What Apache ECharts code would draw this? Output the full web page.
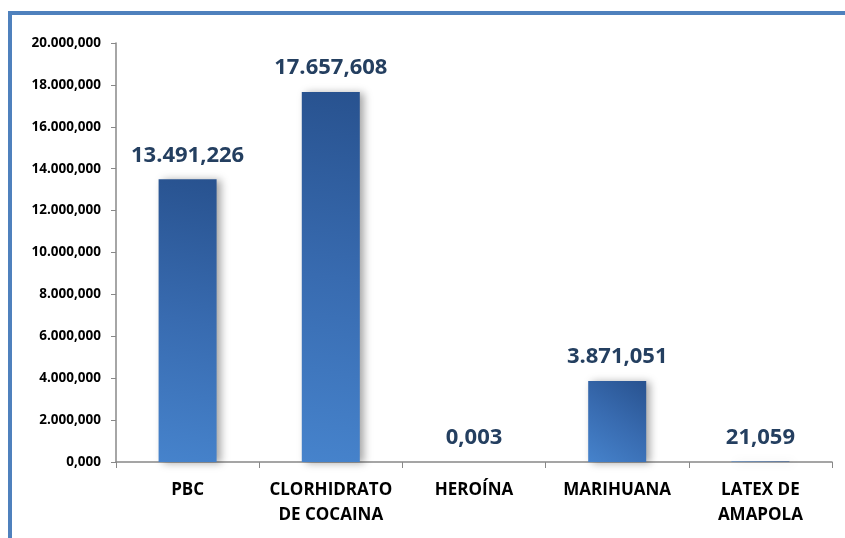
<!DOCTYPE html>
<html><head><meta charset="utf-8">
<script src="https://cdn.jsdelivr.net/npm/echarts@6/dist/echarts.min.js"></script>
<style>html,body{margin:0;padding:0;background:#fff}#c{width:845px;height:538px}</style>
</head><body><div id="c"></div>
<script>
var categories = ['PBC', 'CLORHIDRATO\nDE COCAINA', 'HEROÍNA', 'MARIHUANA', 'LATEX DE\nAMAPOLA'];
var values = [13491.226, 17657.608, 0.003, 3871.051, 21.059];
var yTicks = {min: 0, max: 20000, interval: 2000};

function fmt(v) {
  var s = Number(v).toFixed(3);
  var parts = s.split('.');
  var ip = parts[0].replace(/\B(?=(\d{3})+(?!\d))/g, '.');
  return ip + ',' + parts[1];
}

var chart = echarts.init(document.getElementById('c'), null, {renderer: 'canvas'});
chart.setOption({
  animation: false,
  backgroundColor: '#fff',
  graphic: [
    {type: 'rect', shape: {x: 8, y: 11, width: 837, height: 4}, style: {fill: '#4F81BD'}, silent: true},
    {type: 'rect', shape: {x: 8, y: 11, width: 4, height: 527}, style: {fill: '#4F81BD'}, silent: true}
  ],
  grid: {left: 116, right: 13, top: 43, bottom: 76, containLabel: false},
  xAxis: {
    type: 'category',
    data: categories,
    axisLine: {lineStyle: {color: '#888', width: 1.5}},
    axisTick: {show: true, alignWithLabel: false, length: 6, lineStyle: {color: '#888'}},
    axisLabel: {color: '#000', fontFamily: 'Open Sans', fontWeight: 'bold', fontSize: 17, lineHeight: 25, margin: 16, interval: 0}
  },
  yAxis: {
    type: 'value',
    min: yTicks.min, max: yTicks.max, interval: yTicks.interval,
    splitLine: {show: false},
    axisLine: {show: true, lineStyle: {color: '#888', width: 1.5}},
    axisTick: {show: true, length: 5, lineStyle: {color: '#888'}},
    axisLabel: {color: '#000', fontFamily: 'Open Sans', fontWeight: 'bold', fontSize: 13.5, margin: 15, formatter: fmt}
  },
  series: [{
    type: 'bar',
    data: values,
    barWidth: 58,
    itemStyle: {
      color: new echarts.graphic.LinearGradient(0, 1, 1, 0, [
        {offset: 0, color: '#4683CC'},
        {offset: 0.5, color: '#386BB0'},
        {offset: 1, color: '#28528F'}
      ]),
      shadowColor: 'rgba(0,0,0,0.35)',
      shadowBlur: 8,
      shadowOffsetX: 4,
      shadowOffsetY: 1
    },
    label: {
      show: true, position: 'top', distance: 13,
      color: '#243F60', fontFamily: 'Open Sans', fontWeight: 'bold', fontSize: 22,
      formatter: function (p) { return fmt(p.value); }
    }
  }]
});
</script></body></html>
